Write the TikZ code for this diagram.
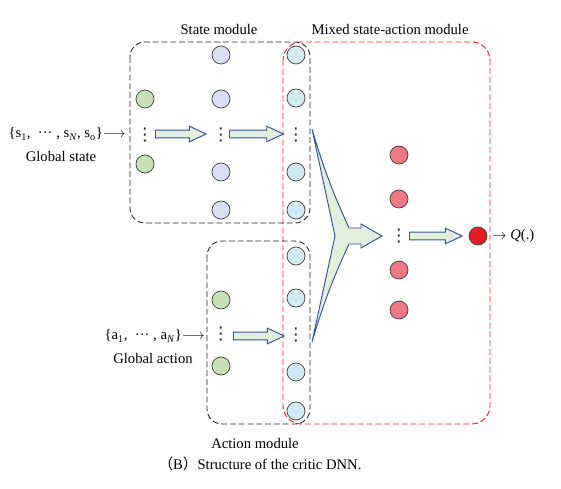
\documentclass[tikz,border=0pt]{standalone}
\usepackage{amsmath}
\usepackage{fontspec}
\setmainfont{Liberation Serif}
\newfontfamily\cjk{Noto Sans CJK SC}
\newfontfamily\dotsfont{DejaVu Sans}
\usepackage{tikz}
\usetikzlibrary{shapes,arrows,positioning}

\definecolor{ingreen}{RGB}{200,225,180}
\definecolor{lavender}{RGB}{218,222,242}
\definecolor{lightcyan}{RGB}{210,235,242}
\definecolor{pinkred}{RGB}{240,120,128}
\definecolor{outred}{RGB}{228,28,36}
\definecolor{arrowfill}{RGB}{226,239,218}
\definecolor{arrowline}{RGB}{47,85,151}
\definecolor{boxred}{RGB}{255,30,40}

\begin{document}
\begin{tikzpicture}[
    x=0.03cm, y=-0.03cm,
    font=\fontsize{12.5}{14}\selectfont,
    neuron/.style={circle, draw=black!75, line width=0.6pt, minimum size=0.54cm, inner sep=0pt},
    in_neuron/.style={neuron, fill=ingreen},
    hid_neuron/.style={neuron, fill=lavender},
    mix_neuron/.style={neuron, fill=lightcyan},
    q_neuron/.style={neuron, fill=pinkred},
    out_neuron/.style={neuron, fill=outred},
    dots/.style={inner sep=0pt, text=black!85, font=\dotsfont\fontsize{15}{15}\selectfont},
    module_box/.style={draw=black!85, dash pattern=on 5pt off 2.5pt, line width=0.75pt, rounded corners=0.45cm},
    mixed_box/.style={draw=boxred, dash pattern=on 5pt off 2.5pt, line width=0.8pt, rounded corners=0.55cm},
    module_label/.style={font=\fontsize{12.5}{14}\selectfont},
    block_arrow/.style={single arrow, draw=arrowline, fill=arrowfill, line width=0.8pt,
        inner xsep=0pt, inner ysep=0.1cm, single arrow head extend=0.12cm,
        single arrow tip angle=50, minimum height=1.52cm, anchor=tail}
]
\useasboundingbox (0,0) rectangle (561,489);
% Module boxes
\draw[mixed_box] (283,42) rectangle (490,424);
\draw[module_box] (130,42) rectangle (310,223);
\draw[module_box] (207,241) rectangle (310,424);
% Module labels
\node[module_label] (state_lbl) at (219,29) {State module};
\node[module_label] (mixed_lbl) at (390,29) {Mixed state-action module};
\node[module_label] (action_lbl) at (255,443) {Action module};
% State module neurons
\node[in_neuron] (s_in1) at (145,99) {};
\node[dots] (s_indots) at (145,135) {⋮};
\node[in_neuron] (s_in2) at (145,164) {};
\node[hid_neuron] (s_h1) at (221,55) {};
\node[hid_neuron] (s_h2) at (221,99) {};
\node[dots] (s_hdots) at (221,135) {⋮};
\node[hid_neuron] (s_h3) at (221,172) {};
\node[hid_neuron] (s_h4) at (221,210) {};
\node[mix_neuron] (s_m1) at (296,55) {};
\node[mix_neuron] (s_m2) at (296,98) {};
\node[dots] (s_mdots) at (296,135) {⋮};
\node[mix_neuron] (s_m3) at (296,172) {};
\node[mix_neuron] (s_m4) at (296,210) {};
% Action module neurons
\node[in_neuron] (a_in1) at (221,300) {};
\node[dots] (a_indots) at (221,334) {⋮};
\node[in_neuron] (a_in2) at (221,366) {};
\node[mix_neuron] (a_m1) at (296,256) {};
\node[mix_neuron] (a_m2) at (296,298) {};
\node[dots] (a_mdots) at (296,335) {⋮};
\node[mix_neuron] (a_m3) at (296,372) {};
\node[mix_neuron] (a_m4) at (296,411) {};
% Mixed state-action neurons
\node[q_neuron] (q1) at (399,155) {};
\node[q_neuron] (q2) at (399,199) {};
\node[dots] (qdots) at (399,236) {⋮};
\node[q_neuron] (q3) at (399,270) {};
\node[q_neuron] (q4) at (399,310) {};
\node[out_neuron] (q_out) at (478,236) {};
% Inputs and output
\node[anchor=east, inner sep=1pt] (state_in) at (127,134) {\{s\textsubscript{1},\ \ ··· , s\textsubscript{\textit{N}}, s\textsubscript{o}\}$\longrightarrow$};
\node (state_txt) at (61,156) {Global state};
\node[anchor=east, inner sep=1pt] (action_in) at (206,336) {\{a\textsubscript{1},\ \ ··· , a\textsubscript{\textit{N}}\}$\longrightarrow$};
\node (action_txt) at (153,358) {Global action};
\node[anchor=west, inner sep=2pt] (q_txt) at (490,236) {$\rightarrow$ \textit{Q}(.)};
% Block arrows
\node[block_arrow] (sa1) at (155,134) {};
\node[block_arrow, minimum height=1.62cm] (sa2) at (229,134) {};
\node[block_arrow] (aa1) at (233,336) {};
\node[block_arrow, minimum height=1.58cm] (qa1) at (409,236) {};
% Merge arrow
\draw[draw=arrowline, fill=arrowfill, line width=0.8pt, line join=miter]
    (312,129) to[bend right=4] (349,228) -- (361,228) -- (361,224) -- (382,236)
    -- (361,248) -- (361,244) -- (349,244) to[bend right=4] (312,342)
    -- (335,236) -- cycle;
% Caption
\node (caption) at (260,464) {{\cjk （}B{\cjk ）}Structure of the critic DNN.};
\end{tikzpicture}
\end{document}
